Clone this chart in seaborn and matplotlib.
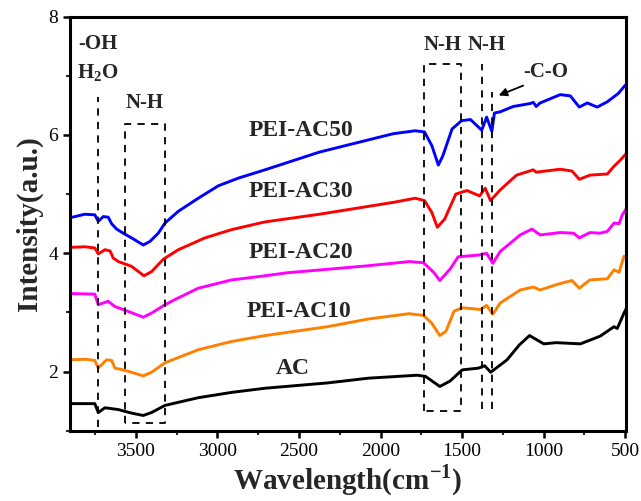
import numpy as np
import pandas as pd
import matplotlib
matplotlib.use('Agg')
import matplotlib.pyplot as plt
from matplotlib.ticker import MultipleLocator
import seaborn as sns

# spectra (wavenumber, intensity)
wn_ac = [3905, 3813, 3752, 3731, 3690, 3608, 3527, 3455, 3404, 3322, 3118, 2913, 2709, 2325, 2075,
         1775, 1725, 1637, 1575, 1500, 1400, 1362, 1325, 1225, 1150, 1087, 1000, 925, 775, 654, 569,
         549, 508, 488]
ac = [1.46, 1.46, 1.46, 1.31, 1.39, 1.36, 1.30, 1.26, 1.31, 1.43, 1.56, 1.65, 1.72, 1.81, 1.89,
      1.94, 1.92, 1.75, 1.84, 2.03, 2.06, 2.10, 1.99, 2.20, 2.45, 2.61, 2.47, 2.49, 2.47, 2.60, 2.76,
      2.73, 2.99, 3.10]

wn_10 = [3905, 3813, 3752, 3731, 3680, 3649, 3629, 3578, 3455, 3404, 3322, 3118, 2913, 2709, 2325,
         2075, 1825, 1737, 1687, 1637, 1600, 1550, 1500, 1387, 1350, 1312, 1267, 1144, 1064, 1022,
         899, 827, 782, 717, 610, 569, 538, 508, 488]
ac10 = [2.20, 2.21, 2.19, 2.06, 2.20, 2.19, 2.06, 2.03, 1.93, 1.99, 2.15, 2.37, 2.51, 2.61, 2.76,
        2.89, 2.98, 2.95, 2.82, 2.61, 2.68, 3.02, 3.08, 3.05, 3.12, 2.97, 3.16, 3.38, 3.43, 3.38,
        3.49, 3.54, 3.41, 3.55, 3.57, 3.72, 3.68, 3.95, 3.95]

wn_20 = [3905, 3752, 3731, 3670, 3629, 3578, 3455, 3404, 3322, 3260, 3118, 2913, 2709, 2575, 2075,
         1825, 1737, 1675, 1637, 1575, 1525, 1400, 1350, 1312, 1267, 1144, 1072, 1022, 899, 817,
         782, 717, 654, 610, 569, 538, 518, 488]
ac20 = [3.32, 3.31, 3.13, 3.19, 3.10, 3.05, 2.92, 2.99, 3.13, 3.22, 3.41, 3.55, 3.62, 3.67, 3.79,
        3.86, 3.84, 3.68, 3.54, 3.73, 3.94, 3.97, 4.00, 3.83, 4.03, 4.31, 4.41, 4.31, 4.35, 4.34,
        4.26, 4.35, 4.34, 4.37, 4.51, 4.50, 4.65, 4.78]

wn_30 = [3905, 3813, 3752, 3731, 3690, 3659, 3639, 3608, 3527, 3451, 3404, 3332, 3240, 3077, 2913,
         2709, 2375, 1923, 1788, 1731, 1686, 1652, 1607, 1539, 1471, 1393, 1359, 1326, 1267, 1167,
         1064, 1046, 899, 827, 782, 717, 610, 569, 528, 490]
ac30 = [4.10, 4.11, 4.09, 3.99, 4.06, 4.04, 3.92, 3.86, 3.78, 3.62, 3.69, 3.90, 4.06, 4.26, 4.40,
        4.53, 4.66, 4.86, 4.93, 4.89, 4.69, 4.44, 4.58, 5.00, 5.06, 4.97, 5.10, 4.89, 5.07, 5.32,
        5.41, 5.37, 5.42, 5.39, 5.25, 5.32, 5.34, 5.47, 5.58, 5.70]

wn_50 = [3905, 3813, 3752, 3731, 3700, 3670, 3649, 3619, 3578, 3527, 3455, 3414, 3363, 3322, 3240,
         3118, 2995, 2872, 2709, 2375, 1923, 1788, 1731, 1686, 1646, 1618, 1562, 1504, 1449, 1380,
         1350, 1318, 1302, 1267, 1187, 1083, 1064, 1046, 1022, 899, 837, 782, 733, 672, 610, 543,
         500, 488]
ac50 = [4.60, 4.66, 4.65, 4.54, 4.62, 4.61, 4.50, 4.41, 4.34, 4.26, 4.14, 4.20, 4.34, 4.51, 4.71,
        4.93, 5.14, 5.27, 5.41, 5.71, 6.02, 6.07, 6.05, 5.82, 5.49, 5.65, 6.10, 6.24, 6.26, 6.08,
        6.30, 6.06, 6.37, 6.39, 6.48, 6.53, 6.55, 6.48, 6.54, 6.68, 6.66, 6.47, 6.54, 6.47, 6.56,
        6.70, 6.84, 6.80]

samples = ['AC', 'PEI-AC10', 'PEI-AC20', 'PEI-AC30', 'PEI-AC50']
colors = ['black', '#ff8000', '#ff00ff', '#ff0000', '#0000ff']
label_pos = [(2537, 2.06), (2500, 3.02), (2490, 4.01), (2490, 5.04), (2490, 6.07)]

df = pd.concat([
    pd.DataFrame({'wn': x, 'I': y, 'sample': s})
    for x, y, s in zip([wn_ac, wn_10, wn_20, wn_30, wn_50], [ac, ac10, ac20, ac30, ac50], samples)
])

sns.set_style('ticks')
plt.rcParams['font.family'] = ['Liberation Serif', 'DejaVu Serif']
plt.rcParams['mathtext.fontset'] = 'custom'
plt.rcParams['mathtext.rm'] = 'Liberation Serif'
plt.rcParams['mathtext.bf'] = 'Liberation Serif:bold'

fig = plt.figure(figsize=(6.41, 5.01), dpi=100)
ax = fig.add_axes([0.109, 0.14, 0.868, 0.827])

sns.lineplot(data=df, x='wn', y='I', hue='sample', palette=dict(zip(samples, colors)),
             sort=False, estimator=None, lw=2.1, legend=False, ax=ax)

ax.set_xlim(3905, 494)
ax.set_ylim(1, 8)
ax.xaxis.set_major_locator(MultipleLocator(500))
ax.xaxis.set_minor_locator(MultipleLocator(250))
ax.yaxis.set_major_locator(MultipleLocator(2))
ax.yaxis.set_minor_locator(MultipleLocator(1))
ax.tick_params(which='major', direction='out', length=5, width=1.8, labelsize=14, colors='black')
ax.tick_params(which='minor', direction='out', length=3, width=1.5)
for sp in ax.spines.values():
    sp.set_linewidth(2.2)
    sp.set_color('black')

ax.set_xlabel(r'Wavelength(cm$^{\mathbf{-1}}$)', fontsize=21, fontweight='bold', labelpad=2)
ax.set_ylabel('Intensity(a.u.)', fontsize=21, fontweight='bold', labelpad=4)

for s, (x, y) in zip(samples, label_pos):
    ax.text(x, y, s, fontsize=17, fontweight='bold', ha='center', va='center')

# dashed guides
dash = dict(color='black', lw=1.3, ls=(0, (4, 3.5)))
ax.plot([3730, 3730], [1.07, 6.64], **dash)
ax.plot([3570, 3570, 3320, 3320, 3570], [1.14, 6.19, 6.19, 1.14, 1.14], **dash)
ax.plot([1733, 1733, 1508, 1508, 1733], [1.33, 7.20, 7.20, 1.33, 1.33], **dash)
ax.plot([1380, 1380], [1.37, 7.20], **dash)
ax.plot([1318, 1318], [1.37, 6.73], **dash)

ann = dict(fontsize=15, fontweight='bold', ha='center', va='center')
ax.text(3735, 7.53, '-OH', **ann)
ax.text(3735, 7.05, r'H$_{\mathbf{2}}$O', **ann)
ax.text(3445, 6.54, 'N-H', **ann)
ax.text(1617, 7.52, 'N-H', **ann)
ax.text(1352, 7.52, 'N-H', **ann)
ax.text(985, 7.06, '-C-O', **ann)
ax.annotate('', xy=(1292, 6.65), xytext=(1110, 6.85),
            arrowprops=dict(arrowstyle='-|>', color='black', lw=1.3, mutation_scale=12))

fig.savefig('out.png', dpi=100)
